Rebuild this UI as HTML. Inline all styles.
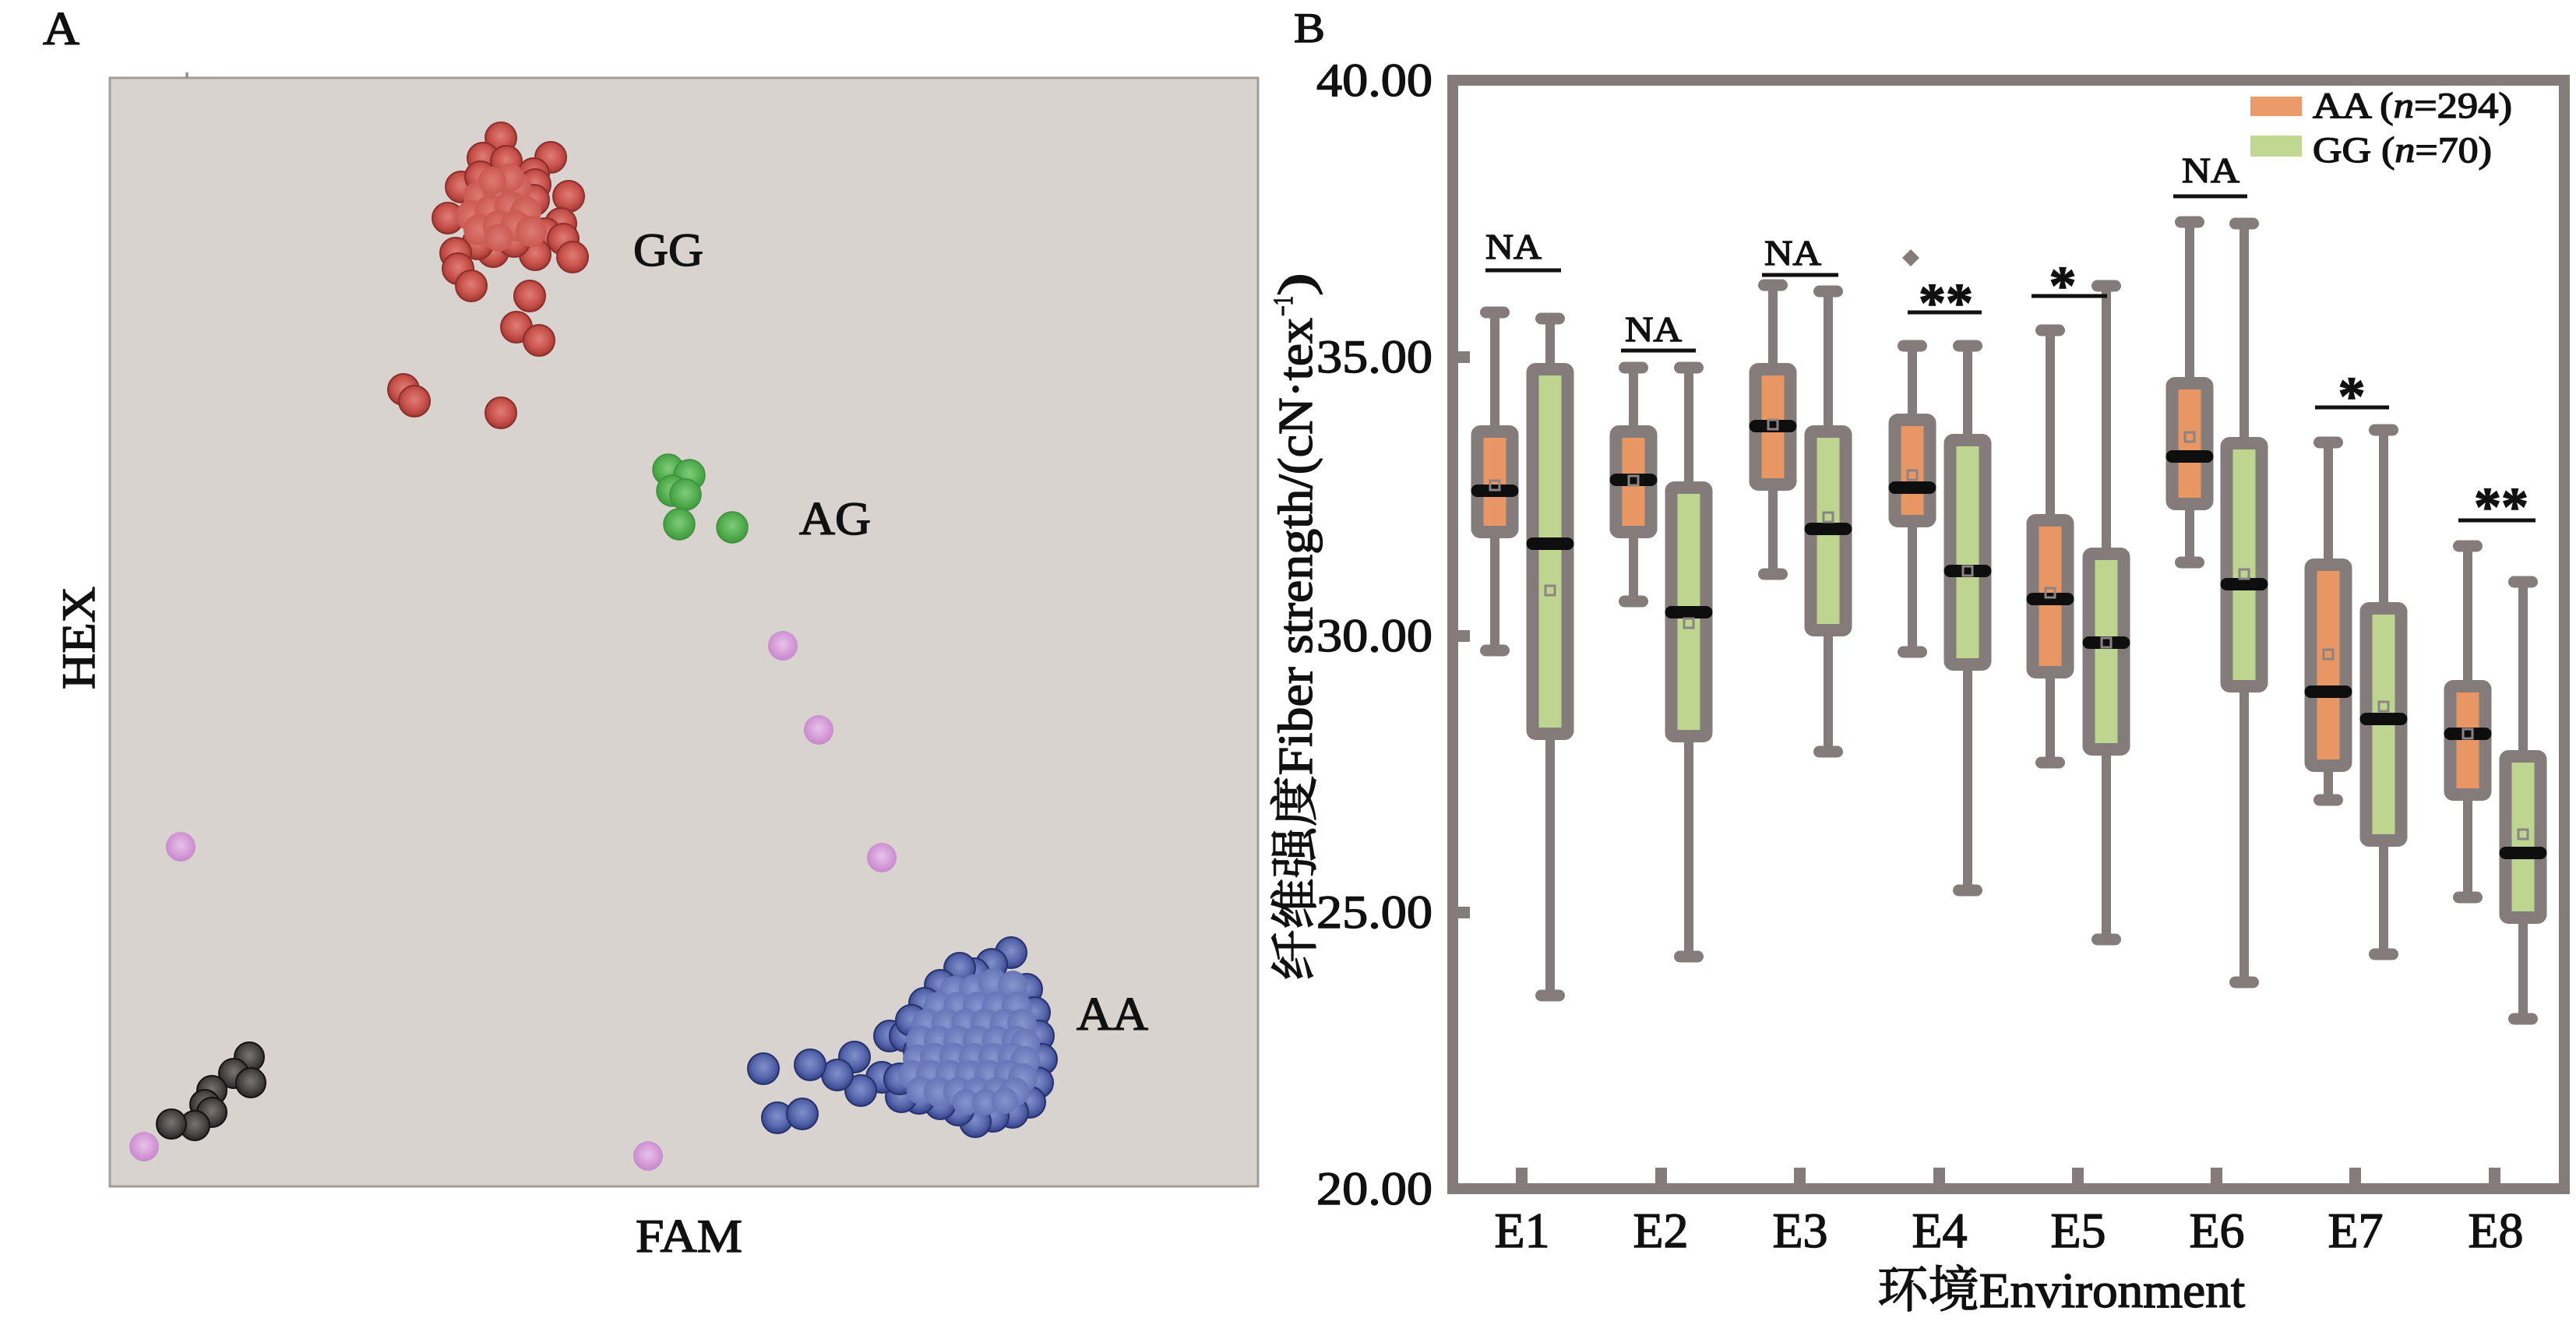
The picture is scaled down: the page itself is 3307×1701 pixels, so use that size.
<!DOCTYPE html>
<html><head><meta charset="utf-8">
<style>
html,body{margin:0;padding:0;background:#fff;}
svg{display:block;}
text{font-family:"Liberation Serif","Noto Serif CJK SC",serif;fill:#111;stroke:#111;stroke-width:1.4px;}
</style></head>
<body>
<svg width="3307" height="1701" viewBox="0 0 3307 1701" xmlns="http://www.w3.org/2000/svg">
<defs>
<radialGradient id="gR" cx="50%" cy="45%" r="55%"><stop offset="0" stop-color="#de7e76"/><stop offset="0.6" stop-color="#c9544d"/><stop offset="1" stop-color="#a23832"/></radialGradient>
<radialGradient id="gRi" cx="50%" cy="50%" r="55%"><stop offset="0" stop-color="#dc7a72"/><stop offset="1" stop-color="#c9564f"/></radialGradient>
<radialGradient id="gB" cx="50%" cy="45%" r="55%"><stop offset="0" stop-color="#8090cc"/><stop offset="0.6" stop-color="#5868ac"/><stop offset="1" stop-color="#34428a"/></radialGradient>
<radialGradient id="gBi" cx="50%" cy="50%" r="55%"><stop offset="0" stop-color="#8595cf"/><stop offset="1" stop-color="#6272b4"/></radialGradient>
<radialGradient id="gG" cx="50%" cy="45%" r="55%"><stop offset="0" stop-color="#80cc7a"/><stop offset="0.6" stop-color="#56b052"/><stop offset="1" stop-color="#3c983a"/></radialGradient>
<radialGradient id="gK" cx="50%" cy="45%" r="55%"><stop offset="0" stop-color="#7a7573"/><stop offset="0.6" stop-color="#4c4846"/><stop offset="1" stop-color="#2a2626"/></radialGradient>
<radialGradient id="gP" cx="50%" cy="45%" r="55%"><stop offset="0" stop-color="#e8c2ea"/><stop offset="0.6" stop-color="#d69dd8"/><stop offset="1" stop-color="#c388c9"/></radialGradient>
</defs>

<!-- ================= Panel A ================= -->
<text x="55" y="57" font-size="60" textLength="47" lengthAdjust="spacingAndGlyphs">A</text>
<rect x="141" y="100" width="1474" height="1423" fill="#d9d3d0" stroke="#a39c99" stroke-width="3"/>
<line x1="240" y1="93" x2="240" y2="100" stroke="#8a8280" stroke-width="3"/>

<!-- red GG -->
<g fill="url(#gR)" stroke="#8e2e2a" stroke-width="2">
<circle cx="643" cy="177" r="20"/><circle cx="620" cy="203" r="20"/><circle cx="650" cy="207" r="20"/>
<circle cx="707" cy="202" r="20"/><circle cx="685" cy="223" r="20"/><circle cx="592" cy="240" r="20"/>
<circle cx="617" cy="227" r="20"/><circle cx="687" cy="237" r="20"/><circle cx="730" cy="252" r="20"/>
<circle cx="575" cy="280" r="20"/><circle cx="685" cy="257" r="20"/><circle cx="720" cy="287" r="20"/>
<circle cx="700" cy="300" r="20"/><circle cx="723" cy="307" r="20"/><circle cx="735" cy="330" r="20"/>
<circle cx="687" cy="327" r="20"/><circle cx="633" cy="323" r="20"/><circle cx="613" cy="313" r="20"/>
<circle cx="585" cy="325" r="20"/><circle cx="588" cy="345" r="20"/><circle cx="605" cy="367" r="20"/>
<circle cx="660" cy="310" r="20"/><circle cx="680" cy="380" r="20"/><circle cx="663" cy="420" r="20"/>
<circle cx="692" cy="437" r="20"/><circle cx="518" cy="500" r="20"/><circle cx="532" cy="515" r="20"/>
<circle cx="643" cy="530" r="20"/>
</g>
<g fill="url(#gRi)">
<circle cx="615" cy="252" r="20"/><circle cx="640" cy="245" r="20"/><circle cx="662" cy="240" r="20"/>
<circle cx="605" cy="277" r="20"/><circle cx="630" cy="270" r="20"/><circle cx="655" cy="265" r="20"/>
<circle cx="675" cy="272" r="20"/><circle cx="615" cy="295" r="20"/><circle cx="640" cy="290" r="20"/>
<circle cx="662" cy="290" r="20"/><circle cx="682" cy="297" r="20"/><circle cx="640" cy="305" r="18"/>
<circle cx="655" cy="228" r="18"/><circle cx="632" cy="232" r="18"/>
</g>

<!-- green AG -->
<g fill="url(#gG)" stroke="#3f8f3c" stroke-width="1.5">
<circle cx="858" cy="603" r="20"/><circle cx="885" cy="610" r="20"/><circle cx="863" cy="630" r="20"/>
<circle cx="880" cy="635" r="20"/><circle cx="872" cy="673" r="20"/><circle cx="940" cy="677" r="20"/>
</g>

<!-- pink -->
<g fill="url(#gP)">
<circle cx="1005" cy="829" r="19"/><circle cx="1051" cy="937" r="19"/><circle cx="232" cy="1087" r="19"/>
<circle cx="1132" cy="1101" r="19"/><circle cx="185" cy="1472" r="19"/><circle cx="832" cy="1484" r="19"/>
</g>

<!-- black -->
<g fill="url(#gK)" stroke="#141212" stroke-width="2">
<circle cx="320" cy="1357" r="19"/><circle cx="300" cy="1378" r="19"/><circle cx="322" cy="1390" r="19"/>
<circle cx="272" cy="1400" r="19"/><circle cx="263" cy="1418" r="19"/><circle cx="272" cy="1428" r="19"/>
<circle cx="250" cy="1445" r="19"/><circle cx="220" cy="1443" r="19"/>
</g>

<!-- blue AA -->
<g fill="url(#gB)" stroke="#26316e" stroke-width="2">
<circle cx="1298" cy="1223" r="20"/><circle cx="1273" cy="1238" r="20"/><circle cx="1250" cy="1250" r="20"/>
<circle cx="1232" cy="1243" r="20"/><circle cx="1207" cy="1265" r="20"/><circle cx="1187" cy="1288" r="20"/>
<circle cx="1318" cy="1270" r="20"/><circle cx="1328" cy="1300" r="20"/><circle cx="1333" cy="1330" r="20"/>
<circle cx="1337" cy="1360" r="20"/><circle cx="1332" cy="1390" r="20"/><circle cx="1322" cy="1415" r="20"/>
<circle cx="1300" cy="1428" r="20"/><circle cx="1275" cy="1433" r="20"/><circle cx="1252" cy="1440" r="20"/>
<circle cx="1230" cy="1425" r="20"/><circle cx="1207" cy="1417" r="20"/><circle cx="1180" cy="1410" r="20"/>
<circle cx="1157" cy="1408" r="20"/><circle cx="1142" cy="1330" r="20"/><circle cx="1162" cy="1330" r="20"/>
<circle cx="1170" cy="1310" r="20"/><circle cx="1180" cy="1350" r="20"/><circle cx="1132" cy="1383" r="20"/>
<circle cx="1105" cy="1400" r="20"/><circle cx="1097" cy="1357" r="20"/><circle cx="1075" cy="1380" r="20"/>
<circle cx="1040" cy="1367" r="20"/><circle cx="980" cy="1372" r="20"/><circle cx="998" cy="1435" r="20"/>
<circle cx="1030" cy="1430" r="20"/><circle cx="1155" cy="1385" r="20"/>
</g>
<g fill="url(#gBi)">
<circle cx="1225" cy="1272" r="19"/><circle cx="1250" cy="1270" r="19"/><circle cx="1275" cy="1262" r="19"/><circle cx="1300" cy="1265" r="19"/>
<circle cx="1205" cy="1292" r="19"/><circle cx="1230" cy="1292" r="19"/><circle cx="1255" cy="1292" r="19"/><circle cx="1280" cy="1292" r="19"/><circle cx="1305" cy="1292" r="19"/>
<circle cx="1190" cy="1314" r="19"/><circle cx="1215" cy="1314" r="19"/><circle cx="1240" cy="1314" r="19"/><circle cx="1265" cy="1314" r="19"/><circle cx="1290" cy="1314" r="19"/><circle cx="1312" cy="1314" r="19"/>
<circle cx="1182" cy="1336" r="19"/><circle cx="1205" cy="1336" r="19"/><circle cx="1230" cy="1336" r="19"/><circle cx="1255" cy="1336" r="19"/><circle cx="1280" cy="1336" r="19"/><circle cx="1305" cy="1336" r="19"/><circle cx="1316" cy="1340" r="19"/>
<circle cx="1178" cy="1360" r="19"/><circle cx="1200" cy="1358" r="19"/><circle cx="1225" cy="1358" r="19"/><circle cx="1250" cy="1358" r="19"/><circle cx="1275" cy="1358" r="19"/><circle cx="1300" cy="1358" r="19"/><circle cx="1316" cy="1362" r="19"/>
<circle cx="1172" cy="1380" r="19"/><circle cx="1195" cy="1380" r="19"/><circle cx="1220" cy="1380" r="19"/><circle cx="1245" cy="1380" r="19"/><circle cx="1270" cy="1380" r="19"/><circle cx="1295" cy="1380" r="19"/><circle cx="1313" cy="1384" r="19"/>
<circle cx="1182" cy="1400" r="18"/><circle cx="1205" cy="1402" r="19"/><circle cx="1230" cy="1402" r="19"/><circle cx="1255" cy="1402" r="19"/><circle cx="1280" cy="1402" r="19"/><circle cx="1302" cy="1402" r="19"/>
<circle cx="1240" cy="1415" r="17"/><circle cx="1265" cy="1415" r="17"/><circle cx="1290" cy="1413" r="17"/>
</g>

<text x="813" y="341" font-size="60" textLength="90" lengthAdjust="spacingAndGlyphs">GG</text>
<text x="1026" y="686" font-size="60" textLength="92" lengthAdjust="spacingAndGlyphs">AG</text>
<text x="1382" y="1322" font-size="60" textLength="92" lengthAdjust="spacingAndGlyphs">AA</text>
<text x="816" y="1607" font-size="60" textLength="137" lengthAdjust="spacingAndGlyphs">FAM</text>
<text transform="translate(121,885) rotate(-90)" font-size="60" textLength="132" lengthAdjust="spacingAndGlyphs">HEX</text>

<!-- ================= Panel B ================= -->
<text x="1661" y="54" font-size="54" textLength="40" lengthAdjust="spacingAndGlyphs">B</text>

<!-- frame -->
<rect x="1865" y="103" width="1427" height="1423" fill="none" stroke="#847b7b" stroke-width="14"/>
<g fill="#847b7b">
<rect x="1865" y="451" width="22" height="15"/>
<rect x="1865" y="809" width="22" height="15"/>
<rect x="1865" y="1164" width="22" height="15"/>
<rect x="1946" y="1499" width="15" height="27"/>
<rect x="2125" y="1499" width="15" height="27"/>
<rect x="2303" y="1499" width="15" height="27"/>
<rect x="2482" y="1499" width="15" height="27"/>
<rect x="2660" y="1499" width="15" height="27"/>
<rect x="2838" y="1499" width="15" height="27"/>
<rect x="3016" y="1499" width="15" height="27"/>
<rect x="3195" y="1499" width="15" height="27"/>
</g>

<!-- y tick labels -->
<g font-size="60">
<text x="1690" y="123" textLength="149" lengthAdjust="spacingAndGlyphs">40.00</text>
<text x="1690" y="478" textLength="149" lengthAdjust="spacingAndGlyphs">35.00</text>
<text x="1690" y="836" textLength="149" lengthAdjust="spacingAndGlyphs">30.00</text>
<text x="1690" y="1191" textLength="149" lengthAdjust="spacingAndGlyphs">25.00</text>
<text x="1690" y="1546" textLength="149" lengthAdjust="spacingAndGlyphs">20.00</text>
</g>

<!-- x tick labels -->
<g font-size="64" text-anchor="middle">
<text x="1954" y="1601">E1</text>
<text x="2132" y="1601">E2</text>
<text x="2311" y="1601">E3</text>
<text x="2490" y="1601">E4</text>
<text x="2668" y="1601">E5</text>
<text x="2846" y="1601">E6</text>
<text x="3024" y="1601">E7</text>
<text x="3204" y="1601">E8</text>
</g>

<text x="2410" y="1678" font-size="64" textLength="472" lengthAdjust="spacingAndGlyphs">环境Environment</text>

<!-- y axis title -->
<text transform="translate(1684,1259) rotate(-90)" font-size="62" textLength="851" lengthAdjust="spacingAndGlyphs">纤维强度Fiber strength/(cN·tex</text>
<text transform="translate(1659,406) rotate(-90)" font-size="36" textLength="26" lengthAdjust="spacingAndGlyphs">−1</text>
<text transform="translate(1684,380) rotate(-90)" font-size="62" textLength="30" lengthAdjust="spacingAndGlyphs">)</text>

<!-- legend -->
<rect x="2889" y="124" width="66" height="25" fill="#eb9a69"/>
<rect x="2889" y="174" width="66" height="27" fill="#c0d891"/>
<text x="2969" y="151" font-size="47" textLength="256" lengthAdjust="spacingAndGlyphs">AA (<tspan font-style="italic">n</tspan>=294)</text>
<text x="2969" y="208" font-size="47" textLength="230" lengthAdjust="spacingAndGlyphs">GG (<tspan font-style="italic">n</tspan>=70)</text>

<!-- whiskers -->
<g stroke="#847b7b" stroke-width="12">
<line x1="1919" y1="401" x2="1919" y2="835"/>
<line x1="1990" y1="409" x2="1990" y2="1278"/>
<line x1="2097" y1="472" x2="2097" y2="772"/>
<line x1="2168" y1="472" x2="2168" y2="1228"/>
<line x1="2276" y1="366" x2="2276" y2="737"/>
<line x1="2347" y1="374" x2="2347" y2="965"/>
<line x1="2455" y1="444" x2="2455" y2="837"/>
<line x1="2526" y1="444" x2="2526" y2="1143"/>
<line x1="2632" y1="424" x2="2632" y2="979"/>
<line x1="2704" y1="367" x2="2704" y2="1206"/>
<line x1="2811" y1="285" x2="2811" y2="722"/>
<line x1="2881" y1="287" x2="2881" y2="1261"/>
<line x1="2989" y1="568" x2="2989" y2="1027"/>
<line x1="3060" y1="552" x2="3060" y2="1225"/>
<line x1="3168" y1="701" x2="3168" y2="1152"/>
<line x1="3239" y1="747" x2="3239" y2="1308"/>
</g>
<!-- caps -->
<g fill="#847b7b">
<rect x="1900" y="393.5" width="38" height="15" rx="7.5"/><rect x="1900" y="827.5" width="38" height="15" rx="7.5"/>
<rect x="1971" y="401.5" width="38" height="15" rx="7.5"/><rect x="1971" y="1270.5" width="38" height="15" rx="7.5"/>
<rect x="2078" y="464.5" width="38" height="15" rx="7.5"/><rect x="2078" y="764.5" width="38" height="15" rx="7.5"/>
<rect x="2149" y="464.5" width="38" height="15" rx="7.5"/><rect x="2149" y="1220.5" width="38" height="15" rx="7.5"/>
<rect x="2257" y="358.5" width="38" height="15" rx="7.5"/><rect x="2257" y="729.5" width="38" height="15" rx="7.5"/>
<rect x="2328" y="366.5" width="38" height="15" rx="7.5"/><rect x="2328" y="957.5" width="38" height="15" rx="7.5"/>
<rect x="2436" y="436.5" width="38" height="15" rx="7.5"/><rect x="2436" y="829.5" width="38" height="15" rx="7.5"/>
<rect x="2507" y="436.5" width="38" height="15" rx="7.5"/><rect x="2507" y="1135.5" width="38" height="15" rx="7.5"/>
<rect x="2613" y="416.5" width="38" height="15" rx="7.5"/><rect x="2613" y="971.5" width="38" height="15" rx="7.5"/>
<rect x="2685" y="359.5" width="38" height="15" rx="7.5"/><rect x="2685" y="1198.5" width="38" height="15" rx="7.5"/>
<rect x="2792" y="277.5" width="38" height="15" rx="7.5"/><rect x="2792" y="714.5" width="38" height="15" rx="7.5"/>
<rect x="2862" y="279.5" width="38" height="15" rx="7.5"/><rect x="2862" y="1253.5" width="38" height="15" rx="7.5"/>
<rect x="2970" y="560.5" width="38" height="15" rx="7.5"/><rect x="2970" y="1019.5" width="38" height="15" rx="7.5"/>
<rect x="3041" y="544.5" width="38" height="15" rx="7.5"/><rect x="3041" y="1217.5" width="38" height="15" rx="7.5"/>
<rect x="3149" y="693.5" width="38" height="15" rx="7.5"/><rect x="3149" y="1144.5" width="38" height="15" rx="7.5"/>
<rect x="3220" y="739.5" width="38" height="15" rx="7.5"/><rect x="3220" y="1300.5" width="38" height="15" rx="7.5"/>
<polygon points="2453,320 2464,331 2453,342 2442,331"/>
</g>
<!-- box bodies -->
<g stroke="#847b7b" stroke-width="16">
<rect x="1896.5" y="554" width="45" height="129" rx="4" fill="#e89664"/>
<rect x="1967.5" y="474" width="45" height="468" rx="4" fill="#bdd58e"/>
<rect x="2074.5" y="554" width="45" height="129" rx="4" fill="#e89664"/>
<rect x="2145.5" y="626" width="45" height="319" rx="4" fill="#bdd58e"/>
<rect x="2253.5" y="474" width="45" height="148" rx="4" fill="#e89664"/>
<rect x="2324.5" y="554" width="45" height="255" rx="4" fill="#bdd58e"/>
<rect x="2432.5" y="539" width="45" height="130" rx="4" fill="#e89664"/>
<rect x="2503.5" y="565" width="45" height="288" rx="4" fill="#bdd58e"/>
<rect x="2609.5" y="668" width="45" height="195" rx="4" fill="#e89664"/>
<rect x="2681.5" y="711" width="45" height="251" rx="4" fill="#bdd58e"/>
<rect x="2788.5" y="492" width="45" height="155" rx="4" fill="#e89664"/>
<rect x="2858.5" y="569" width="45" height="312" rx="4" fill="#bdd58e"/>
<rect x="2966.5" y="725" width="45" height="258" rx="4" fill="#e89664"/>
<rect x="3037.5" y="781" width="45" height="298" rx="4" fill="#bdd58e"/>
<rect x="3145.5" y="881" width="45" height="139" rx="4" fill="#e89664"/>
<rect x="3216.5" y="971" width="45" height="207" rx="4" fill="#bdd58e"/>
</g>
<!-- medians -->
<g fill="#0e0e0e">
<rect x="1888.5" y="622" width="61" height="16" rx="8"/>
<rect x="1959.5" y="690" width="61" height="16" rx="8"/>
<rect x="2066.5" y="608" width="61" height="16" rx="8"/>
<rect x="2137.5" y="778" width="61" height="16" rx="8"/>
<rect x="2245.5" y="539" width="61" height="16" rx="8"/>
<rect x="2316.5" y="671" width="61" height="16" rx="8"/>
<rect x="2424.5" y="618" width="61" height="16" rx="8"/>
<rect x="2495.5" y="725" width="61" height="16" rx="8"/>
<rect x="2601.5" y="761" width="61" height="16" rx="8"/>
<rect x="2673.5" y="817" width="61" height="16" rx="8"/>
<rect x="2780.5" y="578" width="61" height="16" rx="8"/>
<rect x="2850.5" y="742" width="61" height="16" rx="8"/>
<rect x="2958.5" y="880" width="61" height="16" rx="8"/>
<rect x="3029.5" y="915" width="61" height="16" rx="8"/>
<rect x="3137.5" y="934" width="61" height="16" rx="8"/>
<rect x="3208.5" y="1087" width="61" height="16" rx="8"/>
</g>
<!-- means -->
<g fill="none" stroke="#8c8484" stroke-width="3">
<rect x="1913" y="617" width="12" height="12"/>
<rect x="1984" y="752" width="12" height="12"/>
<rect x="2091" y="611" width="12" height="12"/>
<rect x="2162" y="794" width="12" height="12"/>
<rect x="2270" y="539" width="12" height="12"/>
<rect x="2341" y="658" width="12" height="12"/>
<rect x="2449" y="604" width="12" height="12"/>
<rect x="2520" y="727" width="12" height="12"/>
<rect x="2626" y="755" width="12" height="12"/>
<rect x="2698" y="819" width="12" height="12"/>
<rect x="2805" y="555" width="12" height="12"/>
<rect x="2875" y="731" width="12" height="12"/>
<rect x="2983" y="834" width="12" height="12"/>
<rect x="3054" y="901" width="12" height="12"/>
<rect x="3162" y="936" width="12" height="12"/>
<rect x="3233" y="1065" width="12" height="12"/>
</g>

<!-- significance -->
<g stroke="#111" stroke-width="5">
<line x1="1907" y1="347" x2="2004" y2="347"/>
<line x1="2081" y1="450" x2="2177" y2="450"/>
<line x1="2262" y1="353" x2="2360" y2="353"/>
<line x1="2449" y1="401" x2="2544" y2="401"/>
<line x1="2608" y1="380" x2="2705" y2="380"/>
<line x1="2790" y1="252" x2="2885" y2="252"/>
<line x1="2972" y1="523" x2="3067" y2="523"/>
<line x1="3156" y1="668" x2="3255" y2="668"/>
</g>
<g font-size="46">
<text x="1907" y="332" textLength="72" lengthAdjust="spacingAndGlyphs">NA</text>
<text x="2086" y="438" textLength="73" lengthAdjust="spacingAndGlyphs">NA</text>
<text x="2265" y="340" textLength="73" lengthAdjust="spacingAndGlyphs">NA</text>
<text x="2801" y="234" textLength="74" lengthAdjust="spacingAndGlyphs">NA</text>
</g>
<g font-size="70" font-weight="bold" text-anchor="middle">
<text x="2498" y="412">**</text>
<text x="2648" y="390">*</text>
<text x="3019" y="532">*</text>
<text x="3211" y="674">**</text>
</g>
</svg>
</body></html>
